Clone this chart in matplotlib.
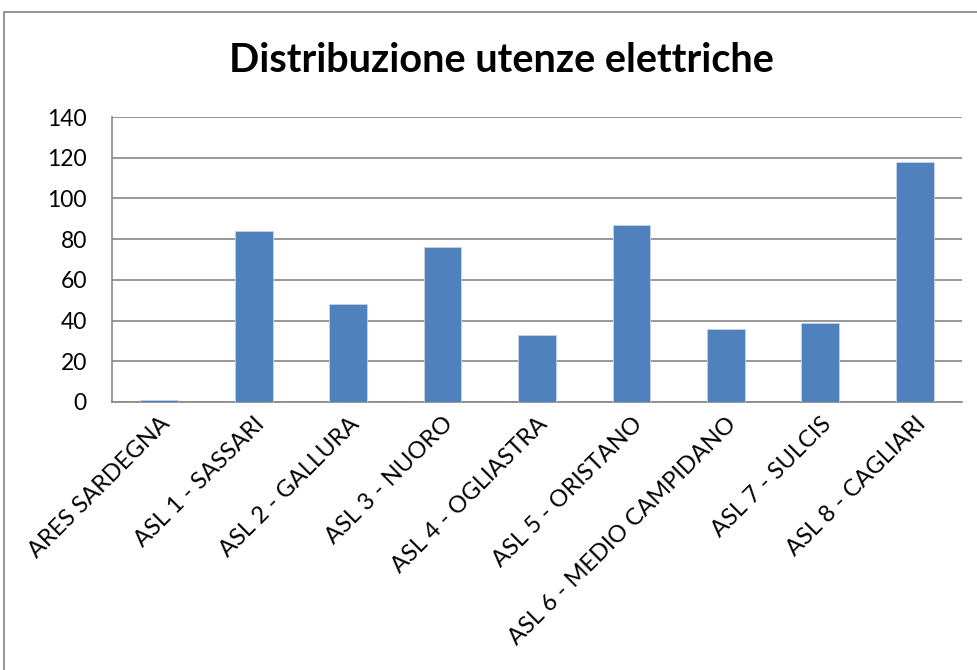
import matplotlib
matplotlib.use("Agg")
import matplotlib.pyplot as plt
from matplotlib.patches import Rectangle

categories = ["ARES SARDEGNA", "ASL 1 - SASSARI", "ASL 2 - GALLURA", "ASL 3 - NUORO",
              "ASL 4 - OGLIASTRA", "ASL 5 - ORISTANO", "ASL 6 - MEDIO CAMPIDANO",
              "ASL 7 - SULCIS", "ASL 8 - CAGLIARI"]
values = [1, 84, 48, 76, 33, 87, 36, 39, 118]
yticks = [0, 20, 40, 60, 80, 100, 120, 140]
title = "Distribuzione utenze elettriche"

plt.rcParams['font.family'] = ['Lato', 'DejaVu Sans']

W, H = 977, 670
fig = plt.figure(figsize=(W / 100, H / 100), dpi=100)
fig.patch.set_facecolor("white")
fig.add_artist(Rectangle((4 / W, -0.1), 1.2, 1 - 12 / H + 0.1, transform=fig.transFigure,
                         fill=False, edgecolor="#8c8c8c", linewidth=1.3))

left, right, top, bottom = 112, 962, 117, 402
ax = fig.add_axes([left / W, 1 - bottom / H, (right - left) / W, (bottom - top) / H])
x = list(range(len(categories)))
ax.bar(x, values, width=0.4, color="#4f81bd", edgecolor="#c6d3e8", linewidth=0.6, zorder=3)
ax.set_xlim(-0.5, len(categories) - 0.5)
ax.set_ylim(0, 140)
ax.set_yticks(yticks)
ax.set_yticklabels([str(v) for v in yticks], fontsize=16.5)
ax.yaxis.grid(True, color="#868686", linewidth=1.2, zorder=0)
ax.set_xticks(x)
ax.set_xticklabels(categories, rotation=45, ha="right", va="top", rotation_mode="anchor",
                   fontsize=17)
ax.tick_params(axis="x", length=0, pad=8)
ax.tick_params(axis="y", length=0, pad=18)
for s in ["top", "right"]:
    ax.spines[s].set_visible(False)
for s in ["left", "bottom"]:
    ax.spines[s].set_color("#868686")
    ax.spines[s].set_linewidth(1.2)

fig.text(501 / W, 1 - 60 / H, title, ha="center", va="center", fontsize=28.5, fontweight="bold")

fig.savefig("out.png", dpi=100, facecolor="white")
